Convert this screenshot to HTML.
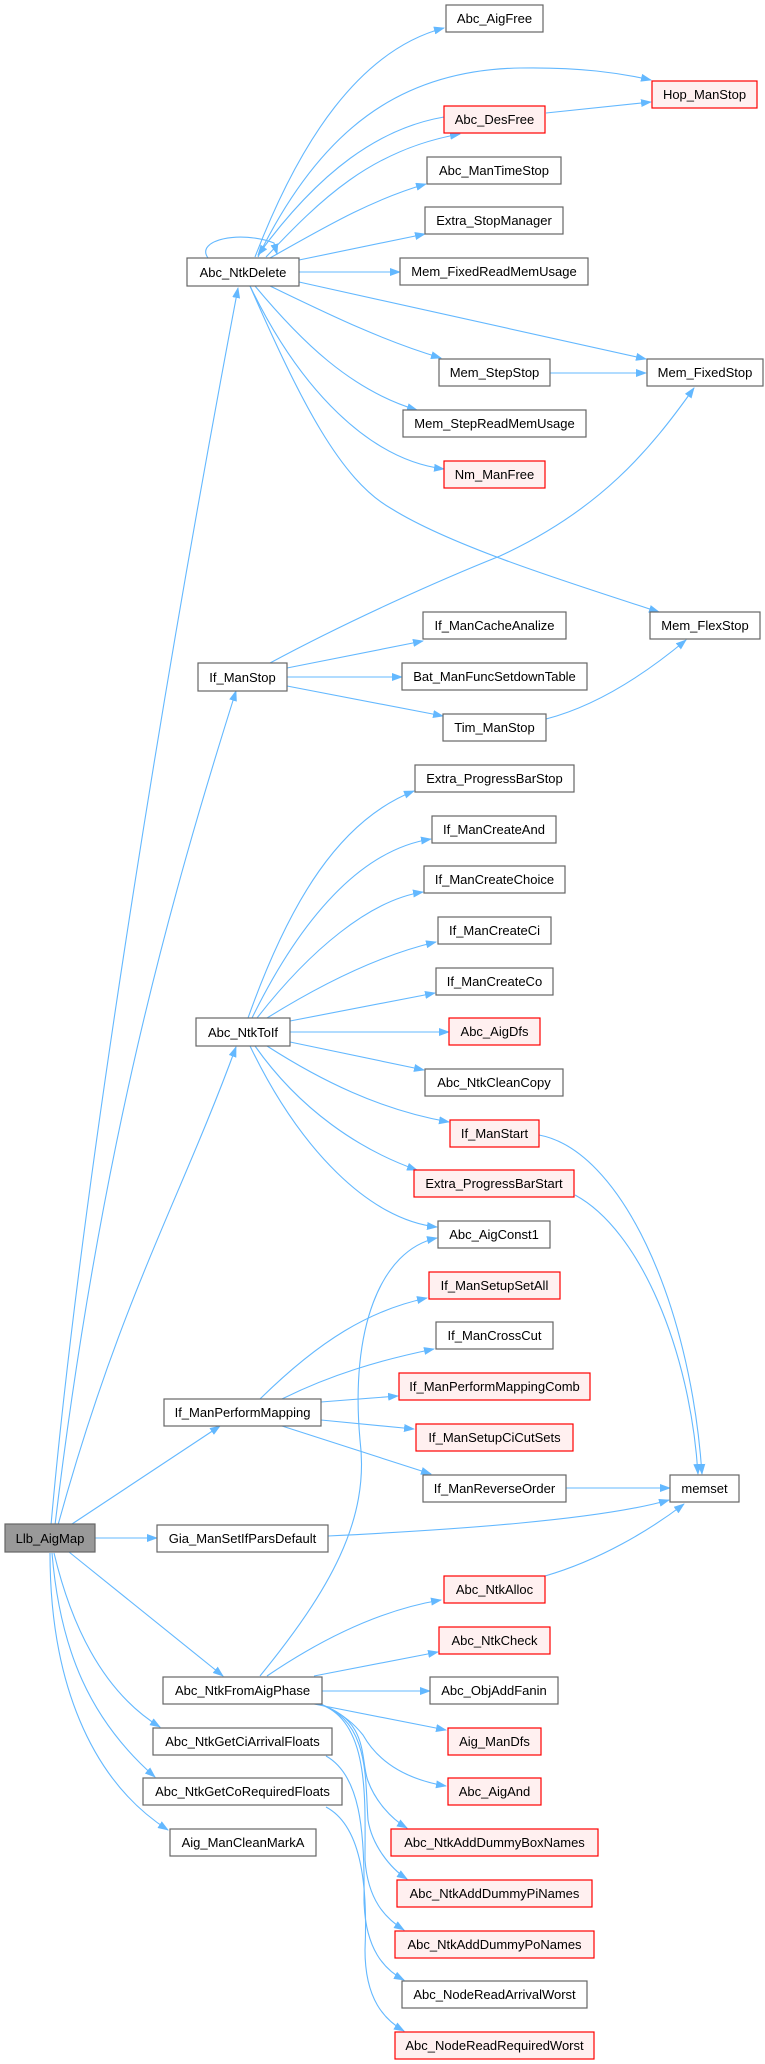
<!DOCTYPE html>
<html><head><meta charset="utf-8"><style>
html,body{margin:0;padding:0;background:#fff;}
svg{display:block;}
text{font-family:"Liberation Sans",Arial,sans-serif;font-size:13px;fill:#000;text-anchor:middle;}
.e{fill:none;stroke:#63b8ff;stroke-width:1.1;marker-end:url(#a);}
.n{fill:#fff;stroke:#666;stroke-width:1.2;}
.r{fill:#fff0f0;stroke:#ff0000;stroke-width:1.2;}
.g{fill:#999;stroke:#666;stroke-width:1.2;}
</style></head><body>
<svg width="765" height="2064" viewBox="0 0 765 2064" xmlns="http://www.w3.org/2000/svg">
<defs><marker id="a" markerWidth="11" markerHeight="8" refX="10" refY="4" orient="auto" markerUnits="userSpaceOnUse"><path d="M0,0 L11,4 L0,8 z" fill="#63b8ff"/></marker></defs>
<!-- edges -->
<path class="e" d="M208,258 C195,240 240,230 274,243 L277,254"/>
<path class="e" d="M255,257 C300,140 360,50 444,28"/>
<path class="e" d="M258,257 C320,130 400,70 520,68 C580,67 620,73 651,80"/>
<path class="e" d="M444,117 C380,128 320,170 258,255"/>
<path class="e" d="M266,257 C320,200 370,150 460,134"/>
<path class="e" d="M546,113 L651,102"/>
<path class="e" d="M270,258 C320,230 370,200 426,184"/>
<path class="e" d="M299,260 L425,234"/>
<path class="e" d="M299,272 L400,272"/>
<path class="e" d="M299,282 L646,359"/>
<path class="e" d="M270,286 C320,310 380,340 441,358"/>
<path class="e" d="M550,373 L646,373"/>
<path class="e" d="M255,286 C300,340 350,390 417,410"/>
<path class="e" d="M250,286 C300,380 340,440 382,446 L444,469" style="display:none"/>
<path class="e" d="M250,286 C300,390 370,460 444,469"/>
<path class="e" d="M250,286 C300,400 340,480 392,509 C450,545 560,580 659,612"/>
<path class="e" d="M270,663 C350,620 440,580 500,556 C600,510 650,450 694,388"/>
<path class="e" d="M287,668 L423,641"/>
<path class="e" d="M287,677 L402,677"/>
<path class="e" d="M287,686 L443,716"/>
<path class="e" d="M546,719 C600,705 650,670 686,640"/>
<path class="e" d="M51,1525 C80,1200 160,700 238,288"/>
<path class="e" d="M55,1525 C100,1150 170,900 236,691"/>
<path class="e" d="M58,1525 C120,1300 180,1200 236,1047"/>
<path class="e" d="M72,1524 L220,1426"/>
<path class="e" d="M95,1538 L157,1538"/>
<path class="e" d="M69,1552 L223,1676"/>
<path class="e" d="M54,1553 C70,1620 100,1690 160,1727"/>
<path class="e" d="M52,1553 C60,1650 90,1720 155,1777"/>
<path class="e" d="M50,1553 C50,1680 90,1780 168,1830"/>
<path class="e" d="M248,1018 C290,900 340,820 414,791"/>
<path class="e" d="M252,1018 C300,920 360,850 431,839"/>
<path class="e" d="M257,1018 C310,950 370,900 423,892"/>
<path class="e" d="M267,1018 C320,985 380,955 436,942"/>
<path class="e" d="M290,1021 L435,993"/>
<path class="e" d="M290,1032 L449,1032"/>
<path class="e" d="M290,1042 L424,1070"/>
<path class="e" d="M267,1046 C320,1080 380,1110 449,1122"/>
<path class="e" d="M255,1046 C300,1110 360,1150 417,1170"/>
<path class="e" d="M250,1046 C300,1150 370,1220 437,1227"/>
<path class="e" d="M539,1135 C620,1150 690,1300 702,1474"/>
<path class="e" d="M575,1195 C640,1230 690,1350 698,1474"/>
<path class="e" d="M260,1399 C320,1340 370,1310 427,1298"/>
<path class="e" d="M282,1399 C330,1375 380,1360 434,1349"/>
<path class="e" d="M321,1402 L398,1396"/>
<path class="e" d="M321,1420 L414,1429"/>
<path class="e" d="M282,1426 L431,1474"/>
<path class="e" d="M566,1488 L670,1488"/>
<path class="e" d="M328,1536 C450,1530 600,1520 669,1500"/>
<path class="e" d="M545,1576 C600,1560 650,1530 684,1504"/>
<path class="e" d="M260,1676 C330,1590 370,1520 360,1440 C350,1330 380,1250 437,1238"/>
<path class="e" d="M267,1676 C320,1640 380,1610 441,1600"/>
<path class="e" d="M314,1676 L438,1652"/>
<path class="e" d="M322,1691 L430,1691"/>
<path class="e" d="M314,1704 L446,1730"/>
<path class="e" d="M321,1704 C345,1715 355,1725 363,1735 C380,1765 410,1780 446,1786"/>
<path class="e" d="M319,1704 C370,1720 360,1760 368,1781 C375,1800 390,1818 407,1828"/>
<path class="e" d="M319,1704 C370,1720 365,1780 368,1820 C372,1845 390,1868 407,1879"/>
<path class="e" d="M319,1704 C370,1720 365,1800 365,1860 C368,1900 385,1918 404,1930"/>
<path class="e" d="M326,1756 C360,1775 365,1830 364,1900 C365,1950 385,1970 404,1980"/>
<path class="e" d="M326,1807 C360,1825 368,1880 365,1950 C365,2000 385,2020 404,2031"/>
<!-- nodes -->
<rect class="n" x="446" y="5" width="97" height="27"/><text x="494.5" y="23">Abc_AigFree</text>
<rect class="r" x="652" y="81" width="105" height="27"/><text x="704.5" y="99">Hop_ManStop</text>
<rect class="r" x="444" y="106" width="101" height="27"/><text x="494.5" y="124">Abc_DesFree</text>
<rect class="n" x="427" y="157" width="134" height="27"/><text x="494" y="175">Abc_ManTimeStop</text>
<rect class="n" x="425" y="207" width="138" height="27"/><text x="494" y="225">Extra_StopManager</text>
<rect class="n" x="187" y="258" width="112" height="28"/><text x="243" y="277">Abc_NtkDelete</text>
<rect class="n" x="400" y="258" width="188" height="27"/><text x="494" y="276">Mem_FixedReadMemUsage</text>
<rect class="n" x="439" y="359" width="111" height="27"/><text x="494.5" y="377">Mem_StepStop</text>
<rect class="n" x="647" y="359" width="116" height="27"/><text x="705" y="377">Mem_FixedStop</text>
<rect class="n" x="403" y="410" width="183" height="27"/><text x="494.5" y="428">Mem_StepReadMemUsage</text>
<rect class="r" x="444" y="461" width="101" height="27"/><text x="494.5" y="479">Nm_ManFree</text>
<rect class="n" x="423" y="612" width="143" height="27"/><text x="494.5" y="630">If_ManCacheAnalize</text>
<rect class="n" x="650" y="612" width="110" height="27"/><text x="705" y="630">Mem_FlexStop</text>
<rect class="n" x="198" y="663" width="89" height="28"/><text x="242.5" y="682">If_ManStop</text>
<rect class="n" x="402" y="663" width="185" height="27"/><text x="494.5" y="681">Bat_ManFuncSetdownTable</text>
<rect class="n" x="443" y="714" width="103" height="27"/><text x="494.5" y="732">Tim_ManStop</text>
<rect class="n" x="415" y="765" width="159" height="27"/><text x="494.5" y="783">Extra_ProgressBarStop</text>
<rect class="n" x="432" y="816" width="124" height="27"/><text x="494" y="834">If_ManCreateAnd</text>
<rect class="n" x="424" y="866" width="141" height="27"/><text x="494.5" y="884">If_ManCreateChoice</text>
<rect class="n" x="438" y="917" width="113" height="27"/><text x="494.5" y="935">If_ManCreateCi</text>
<rect class="n" x="436" y="968" width="117" height="27"/><text x="494.5" y="986">If_ManCreateCo</text>
<rect class="n" x="196" y="1018" width="94" height="28"/><text x="243" y="1037">Abc_NtkToIf</text>
<rect class="r" x="449" y="1018" width="91" height="27"/><text x="494.5" y="1036">Abc_AigDfs</text>
<rect class="n" x="425" y="1069" width="138" height="27"/><text x="494" y="1087">Abc_NtkCleanCopy</text>
<rect class="r" x="450" y="1120" width="89" height="27"/><text x="494.5" y="1138">If_ManStart</text>
<rect class="r" x="414" y="1170" width="160" height="27"/><text x="494" y="1188">Extra_ProgressBarStart</text>
<rect class="n" x="438" y="1221" width="112" height="27"/><text x="494" y="1239">Abc_AigConst1</text>
<rect class="r" x="429" y="1272" width="131" height="27"/><text x="494.5" y="1290">If_ManSetupSetAll</text>
<rect class="n" x="436" y="1322" width="117" height="27"/><text x="494.5" y="1340">If_ManCrossCut</text>
<rect class="r" x="399" y="1373" width="191" height="27"/><text x="494.5" y="1391">If_ManPerformMappingComb</text>
<rect class="n" x="164" y="1399" width="157" height="27"/><text x="242.5" y="1417">If_ManPerformMapping</text>
<rect class="r" x="416" y="1424" width="157" height="27"/><text x="494.5" y="1442">If_ManSetupCiCutSets</text>
<rect class="n" x="423" y="1475" width="143" height="27"/><text x="494.5" y="1493">If_ManReverseOrder</text>
<rect class="n" x="670" y="1475" width="69" height="27"/><text x="704.5" y="1493">memset</text>
<rect class="g" x="5" y="1524" width="90" height="28"/><text x="50" y="1543">Llb_AigMap</text>
<rect class="n" x="157" y="1525" width="171" height="27"/><text x="242.5" y="1543">Gia_ManSetIfParsDefault</text>
<rect class="r" x="444" y="1576" width="101" height="27"/><text x="494.5" y="1594">Abc_NtkAlloc</text>
<rect class="r" x="439" y="1627" width="111" height="27"/><text x="494.5" y="1645">Abc_NtkCheck</text>
<rect class="n" x="163" y="1677" width="159" height="27"/><text x="242.5" y="1695">Abc_NtkFromAigPhase</text>
<rect class="n" x="430" y="1677" width="128" height="27"/><text x="494" y="1695">Abc_ObjAddFanin</text>
<rect class="n" x="153" y="1728" width="179" height="27"/><text x="242.5" y="1746">Abc_NtkGetCiArrivalFloats</text>
<rect class="r" x="448" y="1728" width="93" height="27"/><text x="494.5" y="1746">Aig_ManDfs</text>
<rect class="n" x="143" y="1778" width="199" height="27"/><text x="242.5" y="1796">Abc_NtkGetCoRequiredFloats</text>
<rect class="r" x="448" y="1778" width="93" height="27"/><text x="494.5" y="1796">Abc_AigAnd</text>
<rect class="n" x="170" y="1829" width="146" height="27"/><text x="243" y="1847">Aig_ManCleanMarkA</text>
<rect class="r" x="391" y="1829" width="207" height="27"/><text x="494.5" y="1847">Abc_NtkAddDummyBoxNames</text>
<rect class="r" x="397" y="1880" width="195" height="27"/><text x="494.5" y="1898">Abc_NtkAddDummyPiNames</text>
<rect class="r" x="395" y="1931" width="199" height="27"/><text x="494.5" y="1949">Abc_NtkAddDummyPoNames</text>
<rect class="n" x="402" y="1981" width="185" height="27"/><text x="494.5" y="1999">Abc_NodeReadArrivalWorst</text>
<rect class="r" x="395" y="2032" width="199" height="27"/><text x="494.5" y="2050">Abc_NodeReadRequiredWorst</text>
</svg>
</body></html>
